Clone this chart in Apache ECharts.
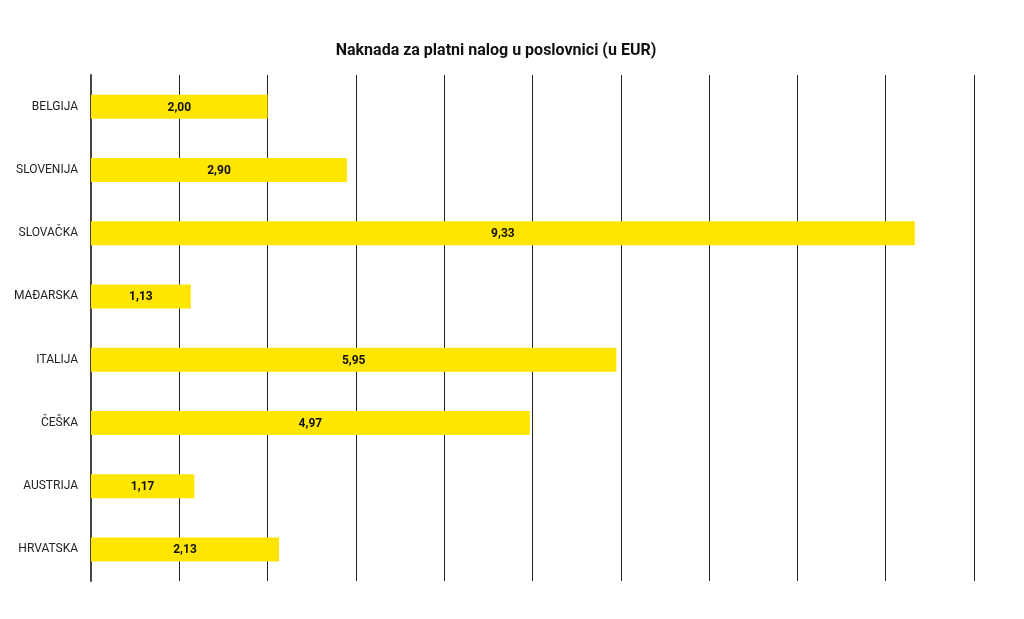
<!DOCTYPE html>
<html><head><meta charset="utf-8">
<script src="https://cdn.jsdelivr.net/npm/echarts@6/dist/echarts.min.js"></script>
<style>html,body{margin:0;padding:0;background:#fff}#c{width:1024px;height:619px}</style>
</head><body><div id="c"></div>
<script>
const categories = ['BELGIJA','SLOVENIJA','SLOVAČKA','MAĐARSKA','ITALIJA','ČEŠKA','AUSTRIJA','HRVATSKA'];
const values = [2.00, 2.90, 9.33, 1.13, 5.95, 4.97, 1.17, 2.13];
const chart = echarts.init(document.getElementById('c'));
chart.setOption({
  animation: false,
  title: { text: 'Naknada za platni nalog u poslovnici (u EUR)', left: 491, top: 38, textAlign: 'center',
    textStyle: { fontFamily: 'Roboto', fontSize: 16, fontWeight: 'bold', color: '#111' } },
  grid: { left: 91, right: 50, top: 75, bottom: 38, containLabel: false },
  xAxis: { type: 'value', min: 0, max: 10, interval: 1,
    axisLabel: { show: false }, axisTick: { show: false }, axisLine: { show: false },
    splitLine: { show: true, lineStyle: { color: '#222', width: 1 } } },
  yAxis: { type: 'category', data: categories, inverse: true,
    axisLine: { show: true, lineStyle: { color: '#444', width: 2 } }, axisTick: { show: false },
    axisLabel: { fontFamily: 'Roboto', fontSize: 12, color: '#222', margin: 13 } },
  series: [{ type: 'bar', data: values, barWidth: 24, itemStyle: { color: '#FFE600' },
    label: { show: true, position: 'inside', offset: [0, 1], fontFamily: 'Roboto', fontSize: 12, fontWeight: 'bold', color: '#111',
      formatter: p => p.value.toFixed(2).replace('.', ',') } }]
});
</script></body></html>
